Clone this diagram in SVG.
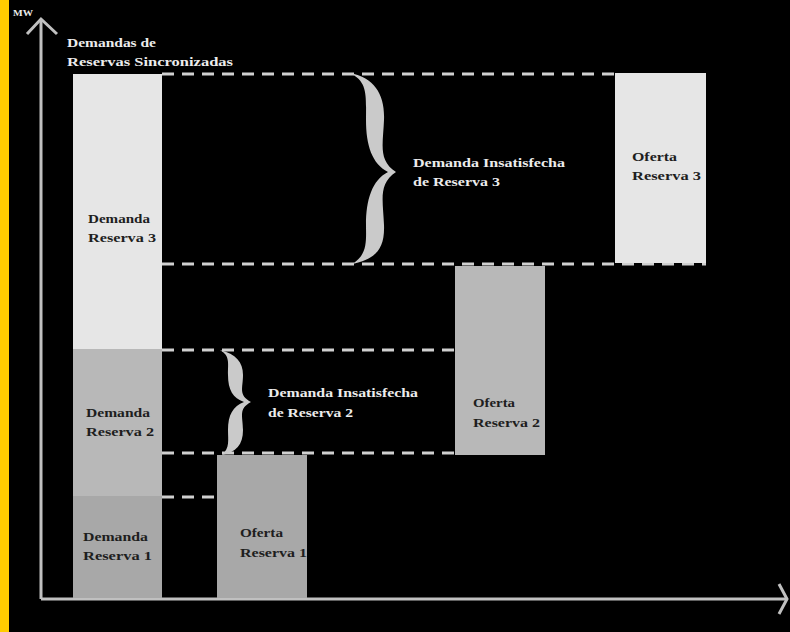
<svg xmlns="http://www.w3.org/2000/svg" width="790" height="632" viewBox="0 0 790 632">
<defs>
<style>
.t{font-family:"Liberation Serif","Times New Roman",serif;font-weight:bold;font-size:12.5px}
.w{fill:#ececec}
.d{fill:#1e1e1e}
.dash{stroke:#d0d0d0;stroke-width:3;stroke-dasharray:12 8;fill:none}
.ax{stroke:#c0c0c0;stroke-width:3;fill:none}
.br{fill:#cacaca}
</style>
</defs>
<rect x="0" y="0" width="790" height="632" fill="#000"/>
<rect x="0" y="0" width="9" height="632" fill="#ffcc00"/>

<g id="axes">
<path class="ax" d="M41,599 L41,20"/>
<path class="ax" d="M27,34 L41,19 L57,34"/>
<path class="ax" d="M41,599 L787,599"/>
<path class="ax" d="M779,584 L787,599 L779,614"/>
<text class="t w" x="13" y="16" font-size="9" style="font-size:9px" textLength="20" lengthAdjust="spacingAndGlyphs">MW</text>
<text class="t w" x="67" y="47" textLength="89" lengthAdjust="spacingAndGlyphs">Demandas de</text>
<text class="t w" x="67" y="66" textLength="166" lengthAdjust="spacingAndGlyphs">Reservas Sincronizadas</text>
</g>

<g id="connectors">
<path class="dash" d="M162,74 L615,74"/>
<path class="dash" d="M162,264 L706,264"/>
<path class="dash" d="M162,350 L455,350"/>
<path class="dash" d="M162,453 L455,453"/>
<path class="dash" d="M162,497 L307,497"/>
</g>

<g id="demanda3">
<rect x="73" y="74" width="89" height="275" fill="#e6e6e6"/>
<text class="t d" x="88" y="223" textLength="62" lengthAdjust="spacingAndGlyphs">Demanda</text>
<text class="t d" x="88" y="242" textLength="68" lengthAdjust="spacingAndGlyphs">Reserva 3</text>
</g>
<g id="demanda2">
<rect x="73" y="349" width="89" height="147" fill="#b8b8b8"/>
<text class="t d" x="86" y="417" textLength="64" lengthAdjust="spacingAndGlyphs">Demanda</text>
<text class="t d" x="86" y="436" textLength="68" lengthAdjust="spacingAndGlyphs">Reserva 2</text>
</g>
<g id="demanda1">
<rect x="73" y="496" width="89" height="102" fill="#a8a8a8"/>
<text class="t d" x="83" y="541" textLength="65" lengthAdjust="spacingAndGlyphs">Demanda</text>
<text class="t d" x="83" y="560" textLength="69" lengthAdjust="spacingAndGlyphs">Reserva 1</text>
</g>
<g id="oferta1">
<rect x="217" y="455" width="90" height="143" fill="#a8a8a8"/>
<text class="t d" x="240" y="537" textLength="43" lengthAdjust="spacingAndGlyphs">Oferta</text>
<text class="t d" x="240" y="557" textLength="67" lengthAdjust="spacingAndGlyphs">Reserva 1</text>
</g>
<g id="oferta2">
<rect x="455" y="266" width="90" height="189" fill="#b8b8b8"/>
<text class="t d" x="473" y="407" textLength="42" lengthAdjust="spacingAndGlyphs">Oferta</text>
<text class="t d" x="473" y="427" textLength="67" lengthAdjust="spacingAndGlyphs">Reserva 2</text>
</g>
<g id="oferta3">
<rect x="615" y="73" width="91" height="190" fill="#e6e6e6"/>
<text class="t d" x="632" y="161" textLength="45" lengthAdjust="spacingAndGlyphs">Oferta</text>
<text class="t d" x="632" y="180" textLength="69" lengthAdjust="spacingAndGlyphs">Reserva 3</text>
</g>

<g id="insatisfecha3">
<path class="br" d="M350,73 C375,78 385,95 384,120 C383,145 378,160 396,172 C378,184 383,200 384,225 C385,250 375,259 352,264 C368,255 366,240 366,225 C366,200 372,180 388,172 C372,164 366,145 366,120 C366,95 368,82 350,73 Z"/>
<text class="t w" x="413" y="167" textLength="152" lengthAdjust="spacingAndGlyphs">Demanda Insatisfecha</text>
<text class="t w" x="413" y="186" textLength="87" lengthAdjust="spacingAndGlyphs">de Reserva 3</text>
</g>
<g id="insatisfecha2">
<path class="br" d="M220,350 C236,354 243,362 243,375 C243,388 238,395 251,402 C238,409 243,416 243,430 C243,445 236,452 222,455 C230,448 228,440 228,430 C228,415 233,406 244,402 C233,398 228,390 228,375 C228,362 230,356 220,350 Z"/>
<text class="t w" x="268" y="397" textLength="150" lengthAdjust="spacingAndGlyphs">Demanda Insatisfecha</text>
<text class="t w" x="268" y="417" textLength="85" lengthAdjust="spacingAndGlyphs">de Reserva 2</text>
</g>
</svg>
